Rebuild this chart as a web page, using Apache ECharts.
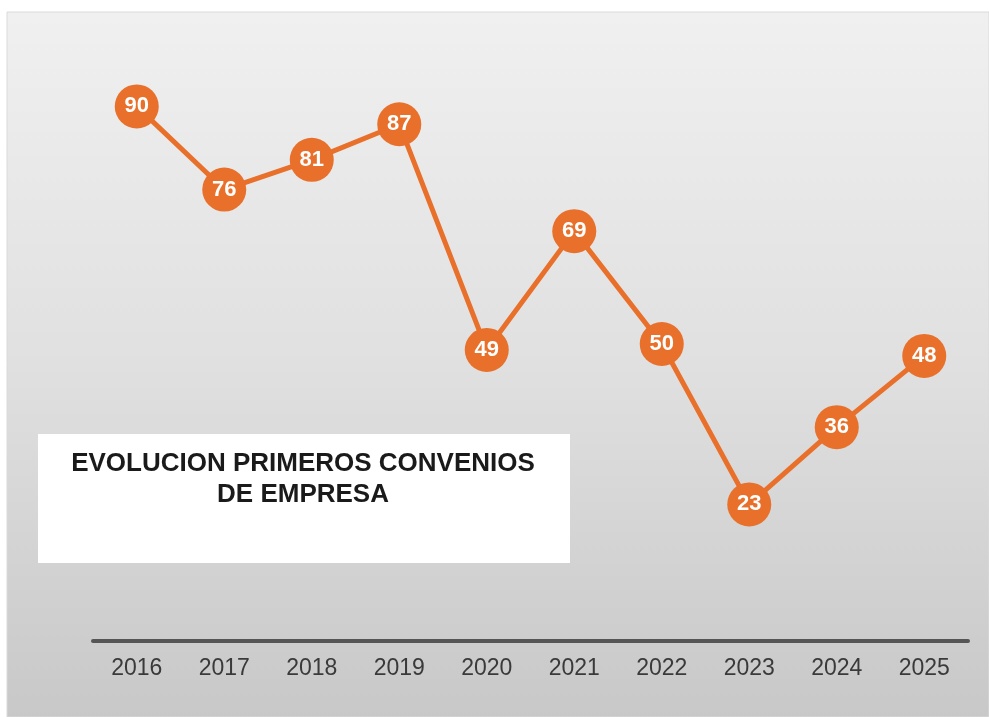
<!DOCTYPE html>
<html>
<head>
<meta charset="utf-8">
<script src="https://cdn.jsdelivr.net/npm/echarts@6/dist/echarts.min.js"></script>
<style>
html,body{margin:0;padding:0;background:#fff;}
#chart{width:989px;height:717px;}
</style>
</head>
<body>
<div id="chart"></div>
<script>
var years = ['2016','2017','2018','2019','2020','2021','2022','2023','2024','2025'];
var convenios = [90, 76, 81, 87, 49, 69, 50, 23, 36, 48];
var titleLines = ['EVOLUCION PRIMEROS CONVENIOS', 'DE EMPRESA'];

var chart = echarts.init(document.getElementById('chart'), null, {renderer: 'canvas'});
chart.setOption({
  animation: false,
  backgroundColor: '#ffffff',
  graphic: [
    {
      type: 'rect', z: -10, silent: true,
      shape: {x: 7, y: 12, width: 982, height: 705},
      style: {
        fill: new echarts.graphic.LinearGradient(0, 0, 0, 1, [
          {offset: 0, color: '#f0f0f0'},
          {offset: 0.5, color: '#e0e0e0'},
          {offset: 1, color: '#c8c8c8'}
        ]),
        stroke: '#dadada', lineWidth: 1
      }
    },
    {
      type: 'rect', z: 5, silent: true,
      shape: {x: 38, y: 434, width: 532, height: 129},
      style: {fill: '#ffffff'}
    },
    {
      type: 'text', z: 6, silent: true,
      x: 303, y: 448,
      style: {
        text: titleLines.join('\n'),
        fill: '#1a1a1a',
        font: 'bold 26px "Liberation Sans", Arial, sans-serif',
        textAlign: 'center',
        textVerticalAlign: 'top',
        lineHeight: 31
      }
    }
  ],
  grid: {left: 93, right: 21, top: 47, bottom: 76, containLabel: false},
  xAxis: {
    type: 'category',
    data: years,
    boundaryGap: true,
    axisLine: {show: true, lineStyle: {color: '#555555', width: 4}},
    axisTick: {show: false},
    axisLabel: {
      color: '#3a3a3a',
      fontSize: 23,
      fontFamily: '"Liberation Sans", Arial, sans-serif',
      margin: 16
    },
    splitLine: {show: false}
  },
  yAxis: {
    type: 'value',
    min: 0, max: 100,
    show: false,
    splitLine: {show: false}
  },
  series: [{
    type: 'line',
    data: convenios,
    symbol: 'circle',
    symbolSize: 44,
    lineStyle: {color: '#e8702a', width: 5},
    itemStyle: {color: '#e8702a'},
    label: {
      show: true,
      position: 'inside',
      color: '#ffffff',
      fontWeight: 'bold',
      fontSize: 22,
      fontFamily: '"Liberation Sans", Arial, sans-serif'
    },
    z: 3
  }]
});
</script>
</body>
</html>
